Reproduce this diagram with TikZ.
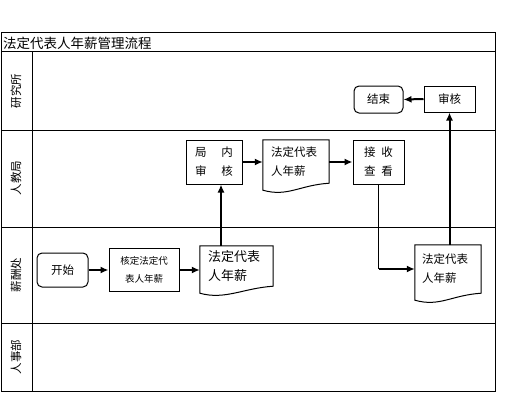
\documentclass[tikz,border=0pt]{standalone}
\usepackage{fontspec}
\newfontfamily\cjk{Noto Sans CJK SC}
\usetikzlibrary{arrows.meta}

\begin{document}
\begin{tikzpicture}[x=1pt, y=-1pt,
        box/.style={draw, line width=1pt, inner sep=0pt, align=center, font=\cjk\fontsize{11.5}{19}\selectfont},
        term/.style={box, rounded corners=5pt},
        doc/.style={inner ysep=0pt, align=left, font=\cjk\fontsize{11.5}{19}\selectfont},
        flow/.style={line width=2pt, -{Latex[length=8pt, width=7pt]}},
        lane/.style={rotate=90, font=\cjk\fontsize{11.5}{13}\selectfont}]
    \useasboundingbox (0, 0) rectangle (522, 412);
    % table and lanes
    \draw [line width=1pt] (1, 33) rectangle (495, 391);
    \foreach \y in {52, 130, 227, 323}
        \draw [line width=1pt] (1, \y) -- (495, \y);
    \draw [line width=1pt] (32, 52) -- (32, 391);
    \node [anchor=west, inner sep=0pt, font=\cjk\fontsize{13.5}{15}\selectfont] (title) at (3, 43) {法定代表人年薪管理流程};
    \node [lane] (lanea) at (16, 91) {研究所};
    \node [lane] (laneb) at (16, 178) {人教局};
    \node [lane] (lanec) at (16, 275) {薪酬处};
    \node [lane] (laned) at (16, 357) {人事部};

    % shapes
    \node [term, minimum width=49, minimum height=27] (finish) at (378.5, 99.5) {结束};
    \node [box, minimum width=51, minimum height=26] (shen) at (449.5, 99) {审核};
    \node [box, minimum width=56, minimum height=44] (bur) at (214, 162) {局\hspace{1.3em}内\\审\hspace{1.3em}核};
    \node [doc, minimum width=66, minimum height=43, text width=50, inner xsep=8] (doca) at (296, 161.5) {法定代表\\人年薪};
    \node [box, minimum width=51, minimum height=44] (recv) at (378.5, 162) {接\hspace{0.5em}收\\查\hspace{0.5em}看};
    \node [term, minimum width=51, minimum height=34] (start) at (62.5, 270) {开始};
    \node [box, minimum width=70, minimum height=43, font=\cjk\fontsize{9.5}{18}\selectfont] (check) at (144, 270) {核定法定代\\表人年薪};
    \node [doc, minimum width=73, minimum height=40, text width=57, inner xsep=8, font=\cjk\fontsize{13}{19}\selectfont] (docb) at (236.5, 266) {法定代表\\人年薪};
    \node [doc, minimum width=66, minimum height=48, text width=52, inner xsep=7] (docc) at (448, 269) {法定代表\\人年薪};
    \foreach \n in {doca, docb, docc}
        \draw [line width=1pt] (\n.south west) -- (\n.north west) -- (\n.north east) -- (\n.south east)
            .. controls ([shift={(-30, 2)}]\n.south east) and ([shift={(25, 14)}]\n.south west) .. ([shift={(0, 7)}]\n.south west) -- cycle;

    % connectors
    \draw [flow] (shen.west) -- (finish.east);
    \draw [flow] ([xshift=7pt]bur.south |- docb.north) -- ([xshift=7pt]bur.south);
    \draw [flow] (bur.east) -- (bur.east -| doca.west);
    \draw [flow] (doca.east |- recv.west) -- (recv.west);
    \draw [flow] (start.east) -- (check.west);
    \draw [flow] (check.east) -- (check.east -| docb.west);
    \draw [line width=1pt] (recv.south) -- (recv.south |- docc.west) coordinate (turn);
    \draw [flow] (turn) -- (docc.west);
    \draw [flow] (shen.south |- docc.north) -- (shen.south);
\end{tikzpicture}
\end{document}
